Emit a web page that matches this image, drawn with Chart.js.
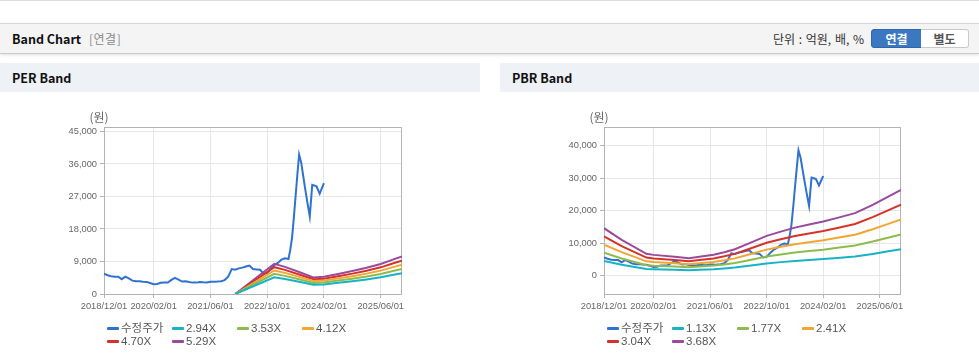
<!DOCTYPE html>
<html>
<head>
<meta charset="utf-8">
<script src="https://cdn.jsdelivr.net/npm/chart.js@4"></script>
<style>
  html,body{margin:0;padding:0;}
  body{width:979px;height:361px;overflow:hidden;background:#fff;position:relative;
       font-family:'Noto Sans CJK KR','Liberation Sans',sans-serif;}
  .topline{position:absolute;left:0;top:0;width:979px;height:1px;background:#dcdcdc;}
  .hdr{position:absolute;left:0;top:23px;width:979px;height:29px;background:#f4f4f4;
       border-top:1px solid #d8d8d8;border-bottom:1px solid #cbcbcb;box-shadow:0 1px 3px rgba(0,0,0,0.13);}
  .hdr .title{position:absolute;left:12px;top:0;line-height:29px;font-weight:bold;font-size:12.5px;color:#111;}
  .hdr .sub{position:absolute;left:89px;top:0;line-height:29px;font-size:12px;color:#8a8a8a;letter-spacing:0.5px;}
  .hdr .unit{position:absolute;right:115px;top:0;line-height:29px;font-size:12px;color:#333;word-spacing:1px;}
  .btn{position:absolute;top:5px;height:17px;line-height:17px;font-size:12px;font-weight:bold;text-align:center;box-sizing:content-box;}
  .btn.on{left:871px;width:49px;background:#3b78c1;border:1px solid #2f67aa;color:#fff;border-radius:3px 0 0 3px;}
  .btn.off{left:921px;width:47px;background:#fff;border:1px solid #c9c9c9;border-left:none;color:#555;border-radius:0 3px 3px 0;}
  .phdr{position:absolute;top:63px;height:29px;background:#eef1f6;}
  .phdr span{position:absolute;left:12px;top:0;line-height:29px;font-weight:bold;font-size:12.5px;color:#111;}
  .wrap{position:absolute;top:92px;height:269px;}
  .legend{position:absolute;left:0;top:230px;width:480px;height:30px;}
  .lg{position:absolute;height:13px;font-family:'Liberation Sans','Noto Sans CJK KR',sans-serif;font-size:11.5px;color:#555;line-height:13px;white-space:nowrap;}
  .lg i{position:absolute;left:0;top:5px;width:12px;height:3px;border-radius:1px;}
  .lg b{position:absolute;left:14px;top:0;font-weight:normal;}
</style>
</head>
<body>
<div class="topline"></div>
<div class="hdr">
  <span class="title">Band Chart</span><span class="sub">[연결]</span>
  <span class="unit">단위 : 억원, 배, %</span>
  <span class="btn on">연결</span><span class="btn off">별도</span>
</div>
<div class="phdr" style="left:0;width:480px;"><span>PER Band</span></div>
<div class="phdr" style="left:500px;width:479px;"><span>PBR Band</span></div>
<div class="wrap" style="left:0;width:480px;"><canvas id="per" width="480" height="269"></canvas><div class="legend" id="perLegend"></div></div>
<div class="wrap" style="left:500px;width:479px;"><canvas id="pbr" width="479" height="269"></canvas><div class="legend" id="pbrLegend"></div></div>
<script>
// ---- x axis (months since 2018/12) ----
const xTickMonths = [0, 14, 30, 46, 62, 78];
const xTickLabels = ['2018/12/01','2020/02/01','2021/06/01','2022/10/01','2024/02/01','2025/06/01'];

// ---- adjusted share price (수정주가) ----
const priceMonths = [0,1,2,3,4,5,6,7,8,9,10,11,12,13,14,15,16,17,18,19,20,21,22,23,24,25,26,27,28,29,
  30,31,32,33,34,35,36,37,38,39,40,41,42,43,44,45,46,47,48,49,50,51,52,52.5,53,53.5,54,54.5,55,55.6,
  56.6,57.3,58,58.7,59.9,60.8,62];
const priceValues = [5600,5200,4900,4800,4800,4100,4800,4300,3700,3550,3500,3400,3350,3050,2700,2750,3100,3150,3150,3900,
  4450,4000,3450,3550,3300,3150,3150,3350,3250,3200,
  3400,3400,3450,3550,3850,4800,6900,6700,7100,7300,7600,7850,6900,6800,6700,5600,5800,7000,8000,8600,
  9500,9900,9700,12200,15500,21000,27000,33000,38600,36300,
  29800,25500,21500,30200,29800,27800,30700];

// ---- PER band ----
const perLabels = ['2.94X','3.53X','4.12X','4.70X','5.29X'];
const perBandMonths = [37, 48, 51, 55, 59, 62, 66, 70, 74, 78, 82, 84];
const per294 = [0, 4645, 4175, 3381, 2558, 2661, 3087, 3528, 4028, 4616, 5410, 5762];
const per353 = [0, 5577, 5013, 4060, 3071, 3195, 3707, 4236, 4836, 5542, 6495, 6919];
const per412 = [0, 6510, 5850, 4738, 3584, 3729, 4326, 4944, 5644, 6468, 7581, 8075];
const per470 = [0, 7426, 6674, 5405, 4089, 4254, 4935, 5640, 6439, 7379, 8648, 9212];
const per529 = [0, 8358, 7512, 6084, 4602, 4787, 5555, 6348, 7247, 8305, 9734, 10368];
const perYTicks = [0, 9000, 18000, 27000, 36000, 45000];

// ---- PBR band ----
const pbrLabels = ['1.13X','1.77X','2.41X','3.04X','3.68X'];
const pbrBandMonths = [0, 5, 12, 14, 20, 24, 27, 31, 34, 37, 41, 46, 50, 54, 58, 62, 66, 71, 76, 80, 84];
const pbr113 = [4492,3390,2068,1966,1797,1650,1797,1978,2215,2497,3051,3763,4170,4543,4836,5119,5469,5914,6701,7413,8125];
const pbr177 = [7036,5310,3239,3080,2814,2584,2814,3098,3469,3912,4779,5894,6531,7115,7576,8018,8567,9264,10496,11611,12726];
const pbr241 = [9580,7230,4410,4193,3832,3519,3832,4218,4724,5326,6507,8025,8893,9688,10315,10917,11664,12614,14291,15810,17328];
const pbr304 = [12084,9120,5563,5290,4834,4438,4834,5320,5958,6718,8208,10123,11218,12221,13011,13771,14714,15911,18027,19942,21858];
const pbr368 = [14628,11040,6734,6403,5851,5373,5851,6440,7213,8133,9936,12254,13579,14794,15750,16670,17811,19261,21822,24141,26459];
const pbrYTicks = [0, 10000, 20000, 30000, 40000];

const priceLabel = '수정주가';
const priceColor = '#2f72d0';
const bandColors = ['#18b2c6', '#8dbb4f', '#f2a531', '#d6322b', '#9a4a9d'];

function pts(xs, ys){ return xs.map((x,i)=>({x:x, y:ys[i]})); }

const framePlugin = {
  id:'frame',
  beforeDatasetsDraw(chart){
    const a = chart.chartArea, c = chart.ctx;
    c.save();
    c.strokeStyle = '#b3b3b3'; c.lineWidth = 1;
    c.strokeRect(Math.round(a.left)+0.5, Math.round(a.top)+0.5, Math.round(a.right-a.left)-1, Math.round(a.bottom-a.top));
    c.fillStyle = '#666';
    c.font = '12px "Noto Sans CJK KR", sans-serif';
    c.textAlign = 'center'; c.textBaseline = 'middle';
    c.fillText('(원)', a.left - 5, a.top - 10);
    c.restore();
  }
};

function makeChart(id, legendId, bandMonths, bands, labels, yMin, yMax, yTicks){
  const datasets = [{
    label: priceLabel, data: pts(priceMonths, priceValues), borderColor: priceColor,
    backgroundColor: priceColor, borderWidth: 2, order: 1
  }];
  bands.forEach((b,i)=>datasets.push({
    label: labels[i], data: pts(bandMonths, b), borderColor: bandColors[i],
    backgroundColor: bandColors[i], borderWidth: 2, order: 0
  }));
  const tickFont = {family:"'Liberation Sans',sans-serif", size:9.3};
  const chart = new Chart(document.getElementById(id), {
    type:'line',
    data:{datasets},
    options:{
      responsive:false, animation:false, devicePixelRatio:1, events:[],
      elements:{point:{radius:0}, line:{tension:0}},
      layout:{padding:{left:0, right:78, top:35, bottom:47}},
      plugins:{legend:{display:false}, tooltip:{enabled:false}},
      scales:{
        x:{type:'linear', min:0, max:84,
           afterBuildTicks:(s)=>{ s.ticks = xTickMonths.map(v=>({value:v})); },
           afterFit:(s)=>{ s.height = 20; },
           ticks:{autoSkip:false, maxRotation:0, padding:3, color:'#666', font:tickFont,
                  callback:(v)=>xTickLabels[xTickMonths.indexOf(v)]},
           grid:{color:'#e6e6e6', tickColor:'#b3b3b3', tickLength:4},
           border:{display:false}},
        y:{type:'linear', min:yMin, max:yMax,
           afterBuildTicks:(s)=>{ s.ticks = yTicks.map(v=>({value:v})); },
           afterFit:(s)=>{ s.width = 104; },
           ticks:{padding:3, color:'#666', font:tickFont,
                  callback:(v)=>Number(v).toLocaleString('en-US')},
           grid:{color:'#e6e6e6', tickColor:'#b3b3b3', tickLength:4},
           border:{display:false}}
      }
    },
    plugins:[framePlugin]
  });
  // HTML legend built from the chart datasets
  const lg = document.getElementById(legendId);
  chart.data.datasets.forEach((d,i)=>{
    const row = Math.floor(i/4), col = i%4;
    const el = document.createElement('div');
    el.className = 'lg';
    el.style.left = (107 + col*65) + 'px';
    el.style.top = (row*13.4) + 'px';
    el.innerHTML = '<i style="background:'+d.borderColor+'"></i><b>'+d.label+'</b>';
    lg.appendChild(el);
  });
  return chart;
}

makeChart('per','perLegend', perBandMonths, [per294,per353,per412,per470,per529], perLabels, 0, 46230, perYTicks);
makeChart('pbr','pbrLegend', pbrBandMonths, [pbr113,pbr177,pbr241,pbr304,pbr368], pbrLabels, -5650, 45800, pbrYTicks);
</script>
</body>
</html>
